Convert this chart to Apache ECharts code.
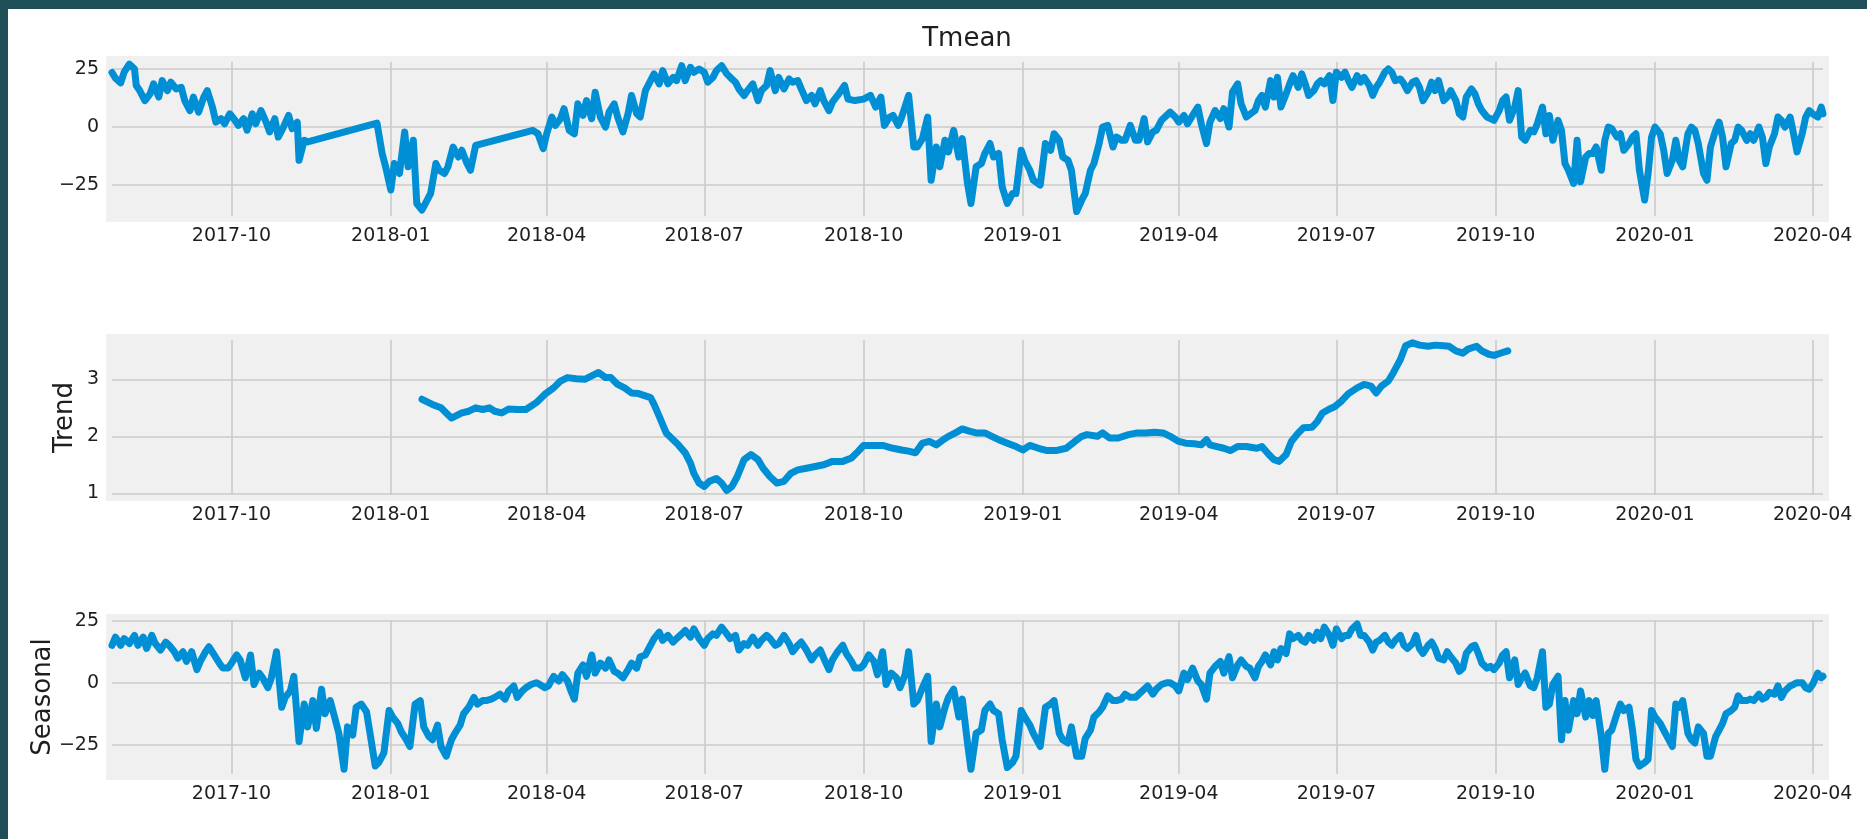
<!DOCTYPE html>
<html>
<head>
<meta charset="utf-8">
<title>Tmean decomposition</title>
<script src="https://cdn.jsdelivr.net/npm/echarts@6/dist/echarts.min.js"></script>
<style>
  html, body { margin: 0; padding: 0; background: #ffffff; }
  #chart { width: 1867px; height: 839px; }
</style>
</head>
<body>
<div id="chart"></div>
<script>
// all x values are day offsets from the first observation, 2017-07-24
const firstDay = Date.UTC(2017, 6, 24);
const lastDay = 988;

const tmeanDays = [
  0, 2, 5, 7, 10, 13, 14, 16, 19, 22, 24, 27, 29, 32, 34, 37, 40, 42, 45, 47,
  50, 53, 55, 58, 60, 63, 65, 68, 71, 73, 76, 78, 81, 83, 86, 89, 91, 94, 96, 99,
  102, 104, 107, 108, 111, 113, 153, 156, 158, 161, 163, 166, 169, 171, 174, 176, 179, 181, 184, 187,
  189, 192, 194, 197, 200, 202, 205, 207, 210, 243, 246, 249, 251, 254, 256, 259, 261, 264, 267, 269,
  272, 274, 277, 279, 282, 285, 287, 290, 292, 295, 298, 300, 303, 305, 308, 313, 316, 318, 321, 324,
  326, 329, 331, 334, 336, 339, 342, 344, 347, 349, 352, 355, 357, 360, 362, 365, 367, 370, 373, 375,
  378, 380, 383, 385, 388, 391, 393, 396, 398, 401, 404, 406, 409, 411, 414, 416, 419, 423, 425, 429,
  434, 438, 441, 444, 446, 449, 451, 454, 456, 460, 463, 465, 468, 471, 473, 476, 478, 481, 483, 486,
  489, 491, 494, 496, 499, 502, 504, 507, 509, 512, 514, 517, 520, 522, 525, 527, 530, 532, 536, 539,
  542, 544, 547, 549, 552, 554, 557, 560, 562, 565, 567, 570, 572, 575, 578, 580, 583, 585, 588, 591,
  593, 596, 598, 601, 603, 606, 609, 611, 614, 616, 619, 621, 624, 627, 629, 632, 634, 637, 640, 642,
  645, 647, 650, 652, 655, 660, 662, 664, 666, 669, 671, 673, 675, 678, 680, 682, 685, 687, 689, 691,
  694, 696, 698, 700, 703, 705, 707, 710, 712, 714, 716, 719, 721, 723, 726, 728, 730, 732, 735, 737,
  739, 741, 744, 746, 748, 751, 753, 755, 757, 760, 762, 764, 766, 769, 771, 773, 776, 778, 780, 782,
  785, 787, 789, 791, 794, 796, 798, 801, 803, 805, 807, 810, 812, 814, 816, 819, 821, 823, 826, 828,
  830, 832, 835, 837, 839, 841, 844, 846, 848, 851, 853, 855, 857, 860, 862, 864, 866, 869, 871, 873,
  876, 878, 880, 882, 885, 887, 889, 891, 894, 896, 898, 901, 903, 905, 907, 910, 912, 914, 916, 919,
  921, 923, 926, 928, 930, 932, 935, 937, 939, 941, 944, 946, 948, 951, 953, 955, 957, 960, 962, 964,
  966, 969, 971, 973, 976, 978, 980, 982, 985, 987, 988
];
const tmeanValues = [
  23.5, 21, 19, 23.6, 27.1, 25, 17.9, 15.7, 11.4, 14.3, 18.6, 12.9, 20, 15.7, 19.3, 16.4, 17.1, 11.4, 7.1, 12.9,
  6.4, 12.9, 15.7, 8.6, 2.1, 3.6, 1.4, 5.7, 2.9, 0.7, 3.6, -1.4, 5.7, 1.4, 7.1, 2.1, -2.1, 3.6, -4.3, 0,
  5, -0.7, 2.1, -14.3, -5.7, -6.4, 1.7, -11.4, -17.1, -27.1, -15.7, -20, -2.1, -17.1, -5.7, -32.9, -35.7, -32.9, -28.6, -15.7,
  -18.6, -20, -17.1, -8.6, -12.9, -10, -15.7, -18.6, -7.9, -1.4, -2.9, -9.3, -2.9, 4.3, 0.7, 3.6, 7.9, -1.4, -2.9, 10,
  5, 11.4, 3.6, 15, 4.3, 0, 6.4, 10, 4.3, -2.1, 5.7, 13.6, 5.7, 4.3, 15.7, 22.9, 18.6, 24.3, 18.6, 21.4,
  20, 26.4, 20, 25.7, 23.6, 25, 23.6, 19.3, 21.4, 24.3, 26.4, 22.9, 21.4, 19.3, 16.4, 13.6, 15.7, 18.6, 11.4, 15.7,
  17.9, 24.3, 15.7, 21.4, 16.4, 20.7, 19.3, 20, 16.4, 11.4, 13.6, 10, 15.7, 11.4, 7.1, 10.7, 13.6, 17.9, 12, 11.4,
  12, 13.6, 8.6, 12.9, 0.7, 4.3, 5, 0.7, 4.3, 13.6, -8.6, -8.6, -5, 4.3, -22.9, -8.6, -17.1, -5.7, -10.7, -1.4,
  -12.9, -5, -24.3, -32.9, -17.1, -15.7, -11.4, -7.1, -12.9, -11.4, -25.7, -32.9, -28.6, -28.6, -10, -14.3, -18.6, -22.9, -25, -7.1,
  -10, -2.9, -5.7, -12.9, -14.3, -18.6, -36.4, -31.4, -28.6, -18.6, -15.7, -7.1, 0, 0.7, -8.6, -4.3, -5.7, -5.7, 0.7, -5.7,
  -5.7, 3.6, -6.4, -2.1, -1.4, 2.9, 5, 6.4, 4.3, 2.1, 5, 1.4, 5, 8.6, 1.4, -7.1, 2.1, 7.1, 3.6, 7.9,
  0, 15, 18.6, 10, 4.3, 7.1, 11.4, 13.6, 8.6, 20, 12.9, 21.4, 8.6, 14.3, 18.6, 22.1, 17.1, 22.9, 18.6, 13.6,
  15.7, 18.6, 20, 18.6, 22.1, 11.4, 23.6, 21.4, 23.6, 20, 17.1, 22.1, 19.3, 21.4, 17.9, 13.6, 17.1, 19.3, 23.6, 25,
  23.6, 20, 20.7, 18.6, 15.7, 19.3, 20, 17.1, 11.4, 15, 19.3, 15.7, 20, 11.4, 12.9, 15.7, 11.4, 5.7, 4.3, 12.9,
  16.4, 14.3, 10, 7.1, 4.3, 3.6, 2.9, 7.1, 11.4, 12.9, 2.9, 8.6, 15.7, -4.3, -5.7, -1.4, -2.1, 1.4, 8.6, -2.9,
  5, -5.7, 2.9, -1.4, -15.7, -18.6, -24.3, -5.7, -23.6, -12.9, -11.4, -11.4, -8.6, -18.6, -5.7, 0, -0.7, -4.3, -2.9, -10,
  -7.1, -4.3, -2.9, -18.6, -31.4, -20, -4.3, 0, -2.9, -10, -20, -14.3, -5.7, -14.3, -17.1, -2.9, 0, -1.4, -7.1, -20,
  -22.9, -8.6, -1.4, 2.1, -4.3, -17.1, -7.1, -5.7, 0, -1.4, -5.7, -2.9, -5.7, 0, -4.3, -15.7, -8.6, -2.9, 4.3, 2.9,
  0, 4.3, -2.9, -10.7, -2.9, 4.3, 7.1, 5.7, 4.3, 8.6, 5.7
];

const trendDays = [
  179, 185, 190, 193, 196, 198, 202, 206, 210, 214, 218, 221, 225, 229, 234, 239, 245, 250, 255, 259,
  263, 268, 273, 277, 281, 285, 288, 292, 296, 300, 304, 308, 311, 313, 316, 320, 324, 327, 331, 334,
  336, 339, 342, 345, 349, 352, 355, 358, 361, 365, 369, 373, 376, 380, 384, 388, 392, 396, 401, 406,
  411, 416, 422, 427, 431, 434, 440, 445, 451, 456, 460, 464, 468, 472, 476, 480, 483, 487, 491, 495,
  499, 504, 508, 512, 517, 522, 526, 530, 535, 540, 545, 551, 556, 560, 563, 569, 572, 576, 581, 587,
  592, 597, 602, 607, 611, 616, 620, 625, 629, 632, 634, 638, 642, 646, 650, 655, 661, 664, 668, 671,
  674, 678, 681, 685, 688, 693, 696, 699, 703, 706, 710, 714, 719, 723, 727, 730, 733, 737, 740, 744,
  747, 751, 755, 760, 764, 769, 772, 776, 780, 783, 788, 791, 795, 798, 803, 806
];
const trendValues = [
  2.65, 2.56, 2.5, 2.41, 2.32, 2.35, 2.41, 2.44, 2.5, 2.47, 2.5, 2.44, 2.41, 2.48, 2.47, 2.47, 2.59, 2.74, 2.85, 2.97,
  3.03, 3.01, 3.0, 3.06, 3.12, 3.03, 3.03, 2.91, 2.85, 2.76, 2.75, 2.71, 2.68, 2.56, 2.35, 2.06, 1.94, 1.85, 1.71, 1.53,
  1.35, 1.18, 1.12, 1.21, 1.26, 1.18, 1.05, 1.12, 1.29, 1.59, 1.68, 1.59, 1.44, 1.29, 1.18, 1.21, 1.35, 1.41, 1.44, 1.47,
  1.5, 1.56, 1.56, 1.62, 1.74, 1.84, 1.84, 1.84, 1.79, 1.76, 1.74, 1.71, 1.88, 1.91, 1.85, 1.94, 2.0, 2.06, 2.13, 2.09,
  2.06, 2.06, 2.0, 1.94, 1.88, 1.82, 1.76, 1.84, 1.79, 1.75, 1.75, 1.79, 1.91, 2.0, 2.03, 2.0, 2.06, 1.97, 1.97, 2.03,
  2.06, 2.06, 2.07, 2.06, 2.0, 1.91, 1.88, 1.87, 1.85, 1.94, 1.85, 1.82, 1.79, 1.75, 1.82, 1.82, 1.79, 1.82, 1.68, 1.59,
  1.56, 1.68, 1.91, 2.06, 2.15, 2.16, 2.26, 2.41, 2.48, 2.52, 2.62, 2.75, 2.85, 2.91, 2.88, 2.76, 2.88, 2.97, 3.12, 3.35,
  3.59, 3.64, 3.6, 3.58, 3.6, 3.59, 3.58, 3.5, 3.46, 3.53, 3.58, 3.5, 3.44, 3.42, 3.47, 3.5
];

const seasonalDays = [
  0, 2, 5, 7, 10, 13, 15, 18, 20, 23, 25, 28, 31, 33, 36, 38, 41, 43, 46, 49,
  51, 54, 56, 59, 62, 64, 67, 69, 72, 74, 77, 80, 82, 85, 87, 90, 92, 95, 98, 100,
  103, 105, 108, 111, 113, 116, 118, 121, 123, 126, 129, 131, 134, 136, 139, 141, 144, 147, 149, 152,
  154, 157, 160, 162, 165, 167, 170, 172, 175, 178, 180, 183, 185, 188, 190, 193, 196, 198, 201, 203,
  206, 209, 211, 214, 216, 219, 221, 224, 227, 229, 232, 234, 237, 239, 242, 245, 247, 250, 252, 255,
  258, 260, 263, 265, 267, 269, 272, 274, 277, 279, 282, 285, 287, 290, 292, 295, 298, 300, 303, 305,
  308, 313, 316, 318, 321, 324, 326, 329, 331, 334, 336, 339, 342, 344, 347, 349, 352, 355, 357, 360,
  362, 365, 367, 370, 373, 375, 378, 380, 383, 385, 388, 391, 393, 396, 398, 401, 404, 406, 409, 411,
  414, 416, 419, 422, 424, 427, 429, 432, 434, 437, 440, 442, 445, 447, 450, 453, 455, 458, 460, 463,
  465, 468, 471, 473, 476, 478, 481, 483, 486, 489, 491, 494, 496, 499, 502, 504, 507, 509, 512, 514,
  517, 520, 522, 525, 527, 530, 532, 536, 539, 542, 544, 547, 549, 552, 554, 557, 560, 562, 565, 567,
  570, 572, 575, 578, 580, 583, 585, 588, 591, 593, 596, 598, 601, 603, 606, 609, 611, 614, 616, 619,
  621, 624, 627, 629, 632, 634, 637, 640, 642, 645, 647, 650, 652, 655, 657, 660, 662, 664, 666, 669,
  671, 673, 675, 678, 680, 682, 685, 687, 689, 691, 694, 696, 698, 700, 703, 705, 707, 710, 712, 714,
  716, 719, 721, 723, 726, 728, 730, 732, 735, 737, 739, 741, 744, 746, 748, 751, 753, 755, 757, 760,
  762, 764, 766, 769, 771, 773, 776, 778, 780, 782, 785, 787, 789, 791, 794, 796, 798, 801, 803, 805,
  807, 810, 812, 814, 816, 819, 821, 823, 826, 828, 830, 832, 835, 837, 839, 841, 844, 846, 848, 851,
  853, 855, 857, 860, 862, 864, 866, 869, 871, 873, 876, 878, 880, 882, 885, 887, 889, 891, 894, 896,
  898, 901, 903, 905, 907, 910, 912, 914, 916, 919, 921, 923, 926, 928, 930, 932, 935, 937, 939, 941,
  944, 946, 948, 951, 953, 955, 957, 960, 962, 964, 966, 969, 971, 973, 976, 978, 980, 982, 985, 987,
  988
];
const seasonalValues = [
  15.1, 18.4, 15.1, 17.8, 15.8, 19.1, 15.1, 18.4, 13.8, 19.1, 15.8, 13.2, 16.4, 15.1, 12.5, 9.9, 12.5, 8.6, 12.5, 5.3,
  8.6, 12.5, 14.5, 11.2, 7.9, 5.9, 5.9, 7.9, 11.2, 9.2, 2.0, 11.2, -0.7, 3.9, 2.0, -2.0, 2.0, 12.5, -9.9, -5.9,
  -3.3, 2.6, -23.7, -8.6, -17.8, -7.2, -18.4, -2.6, -12.5, -7.2, -15.1, -20.4, -34.9, -17.8, -21.1, -9.9, -8.6, -11.8, -20.4, -33.6,
  -32.2, -28.3, -11.2, -13.8, -16.4, -19.7, -23.0, -25.7, -8.6, -7.2, -17.8, -21.7, -23.0, -17.1, -25.7, -29.6, -23.0, -20.4, -17.1, -12.5,
  -9.9, -5.9, -8.6, -7.2, -7.2, -6.6, -5.9, -4.6, -6.6, -3.3, -1.3, -5.9, -3.3, -2.0, -0.7, 0, -0.7, -2.0, -1.3, 2.6,
  0.7, 3.3, 0.7, -3.3, -6.6, 3.9, 7.2, 2.6, 11.2, 3.9, 7.9, 5.9, 9.2, 4.6, 3.9, 2.0, 5.3, 7.9, 5.9, 10.5,
  11.2, 17.8, 20.4, 17.1, 19.1, 16.4, 17.8, 19.7, 21.1, 18.4, 21.7, 17.8, 15.1, 17.8, 19.7, 19.1, 22.4, 19.7, 17.8, 19.1,
  13.2, 15.8, 15.1, 18.4, 15.1, 17.1, 19.1, 17.8, 15.1, 15.8, 19.1, 15.8, 12.5, 15.1, 16.4, 13.2, 9.2, 11.2, 13.2, 9.9,
  5.3, 9.2, 12.5, 15.1, 11.8, 8.6, 5.9, 5.9, 7.2, 11.2, 8.6, 3.3, 12.5, -0.7, 3.9, 2.0, -2.0, 3.3, 12.5, -8.6,
  -7.2, -2.0, 2.6, -23.7, -8.6, -17.8, -9.9, -5.9, -2.6, -13.8, -6.6, -24.3, -34.9, -20.4, -19.1, -11.2, -8.6, -11.2, -12.5, -23.0,
  -34.2, -32.2, -29.6, -11.2, -13.8, -17.1, -20.4, -25.7, -9.9, -8.6, -7.2, -20.4, -23.0, -24.3, -17.8, -29.6, -29.6, -22.4, -19.1, -13.8,
  -11.8, -9.9, -5.3, -7.2, -7.2, -6.6, -4.6, -5.9, -5.9, -4.6, -2.6, -1.3, -4.6, -2.6, -0.7, 0, 0, -1.3, -3.3, 3.9,
  1.3, 5.9, 0.7, -0.7, -6.6, 3.9, 6.6, 8.6, 3.9, 10.5, 2.0, 7.2, 9.2, 6.6, 5.9, 2.0, 6.6, 8.6, 11.2, 7.2,
  12.5, 9.2, 13.8, 11.8, 19.7, 17.8, 19.1, 17.1, 16.4, 19.1, 17.1, 20.4, 17.8, 22.4, 19.1, 15.1, 21.7, 17.8, 19.1, 19.1,
  21.7, 23.7, 19.1, 19.1, 16.4, 13.2, 16.4, 17.1, 19.1, 16.4, 15.1, 17.1, 19.1, 15.1, 13.8, 15.8, 19.1, 13.8, 11.8, 15.1,
  16.4, 13.8, 9.9, 9.2, 12.5, 10.5, 7.9, 4.6, 5.9, 11.8, 14.5, 15.1, 11.8, 7.9, 5.9, 6.6, 5.3, 7.9, 11.2, 12.5,
  2.0, 9.2, -0.7, 2.0, 3.9, -1.3, -2.0, 2.0, 12.5, -9.9, -8.6, -0.7, 2.6, -23.0, -7.2, -19.1, -7.2, -12.5, -3.3, -13.8,
  -7.2, -13.2, -7.2, -21.7, -34.9, -20.4, -19.1, -12.5, -8.6, -11.2, -9.9, -19.1, -30.9, -33.6, -32.2, -30.9, -11.2, -13.8, -16.4, -19.1,
  -21.7, -25.7, -8.6, -9.9, -7.2, -20.4, -23.0, -24.3, -17.8, -20.4, -29.6, -29.6, -21.7, -19.1, -16.4, -12.5, -11.2, -9.9, -5.3, -7.2,
  -7.2, -6.6, -7.2, -4.6, -6.6, -5.9, -3.9, -4.6, -1.3, -5.9, -3.3, -1.3, -0.7, 0, 0, -2.0, -2.6, -0.7, 3.9, 2.0,
  2.6
];

const xTickLabels = ['2017-10', '2018-01', '2018-04', '2018-07', '2018-10', '2019-01',
  '2019-04', '2019-07', '2019-10', '2020-01', '2020-04'];
const tmeanTicks = [-25, 0, 25];
const trendTicks = [1, 2, 3];
const seasonalTicks = [-25, 0, 25];

const DAY = 86400000;
const toTime = d => firstDay + d * DAY;
const pairs = (days, vals) => days.map((d, i) => [toTime(d), vals[i]]);
const xTickValues = xTickLabels.map(s => {
  const [y, m] = s.split('-').map(Number);
  return Date.UTC(y, m - 1, 1);
});
const xLabelOf = v => {
  const d = new Date(v);
  return d.getUTCFullYear() + '-' + String(d.getUTCMonth() + 1).padStart(2, '0');
};

const font = 'DejaVu Sans';
const textColor = '#1e1e1e';
const blue = '#008fd5';
const gridColor = '#cbcbcb';

const grids = [
  { top: 62, height: 154 },
  { top: 340, height: 155 },
  { top: 620, height: 154 }
].map(g => ({
  left: 112, right: 44, top: g.top, height: g.height,
  show: true, backgroundColor: '#f0f0f0', borderColor: '#f0f0f0', borderWidth: 12
}));

// timestamps on a linear axis, so the quarter ticks can be placed exactly
function xAxisFor(i) {
  return {
    type: 'value', gridIndex: i, min: toTime(0), max: toTime(lastDay),
    axisLine: { show: false },
    axisTick: { show: false, customValues: xTickValues },
    axisLabel: {
      customValues: xTickValues, formatter: xLabelOf,
      fontFamily: font, fontSize: 19, color: textColor, margin: 11
    },
    splitLine: { show: true, lineStyle: { color: gridColor, width: 1.6 } }
  };
}

const minus = v => (v < 0 ? '\u2212' + Math.abs(v) : String(v));

function yAxisFor(i, min, max, ticks, name, gap) {
  return {
    type: 'value', gridIndex: i, min: min, max: max,
    name: name, nameLocation: 'middle', nameGap: gap, nameMoveOverlap: false,
    nameTextStyle: { fontFamily: font, fontSize: 26, color: textColor },
    axisLine: { show: false },
    axisTick: { show: false, customValues: ticks },
    axisLabel: {
      customValues: ticks, formatter: minus,
      fontFamily: font, fontSize: 19, color: textColor, margin: 13
    },
    splitLine: { show: true, lineStyle: { color: gridColor, width: 1.6 } }
  };
}

function lineFor(i, data) {
  return {
    type: 'line', xAxisIndex: i, yAxisIndex: i, data: data,
    showSymbol: false, symbol: 'none', clip: false,
    lineStyle: { color: blue, width: 7, cap: 'round', join: 'round' }
  };
}

const chart = echarts.init(document.getElementById('chart'), null, { renderer: 'canvas' });
chart.setOption({
  animation: false,
  backgroundColor: '#ffffff',
  grid: grids,
  xAxis: [xAxisFor(0), xAxisFor(1), xAxisFor(2)],
  yAxis: [
    yAxisFor(0, -38.3, 28.0, tmeanTicks, '', 0),
    yAxisFor(1, 0.97, 3.69, trendTicks, 'Trend', 34),
    yAxisFor(2, -36.8, 25.3, seasonalTicks, 'Seasonal', 56)
  ],
  series: [
    lineFor(0, pairs(tmeanDays, tmeanValues)),
    lineFor(1, pairs(trendDays, trendValues)),
    lineFor(2, pairs(seasonalDays, seasonalValues))
  ],
  graphic: [
    { type: 'rect', left: 0, top: 0, shape: { width: 1867, height: 9 }, style: { fill: '#1f4f56' } },
    { type: 'rect', left: 0, top: 0, shape: { width: 8, height: 839 }, style: { fill: '#1f4f56' } },
    {
      type: 'text', x: 967, y: 39,
      style: {
        text: 'Tmean', fontFamily: font, fontSize: 26, fill: textColor,
        textAlign: 'center', textVerticalAlign: 'middle'
      }
    }
  ]
});
</script>
</body>
</html>
